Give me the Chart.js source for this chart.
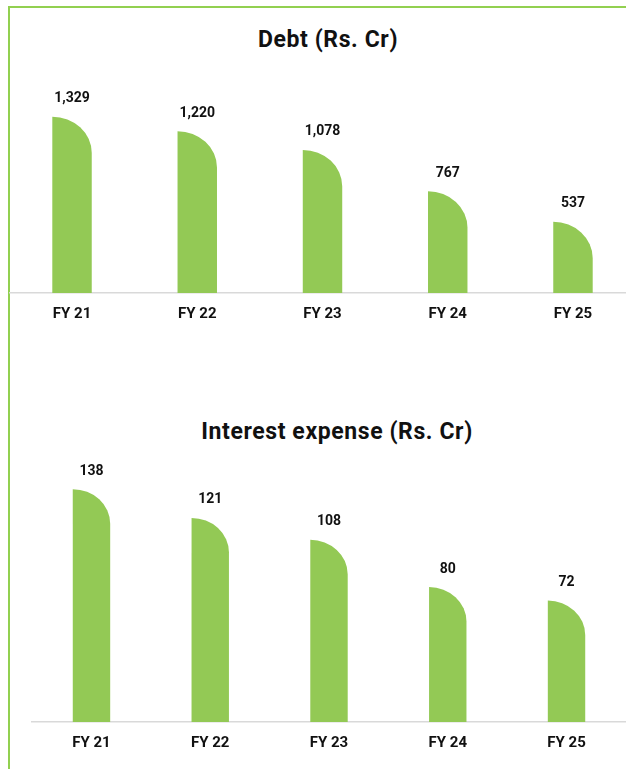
<!DOCTYPE html>
<html>
<head>
<meta charset="utf-8">
<script src="https://cdn.jsdelivr.net/npm/chart.js@4/dist/chart.umd.min.js"></script>
<style>
  html, body { margin: 0; padding: 0; background: #fff; width: 626px; height: 769px; overflow: hidden; }
  #frame { position: absolute; left: 8px; top: 6px; width: 700px; height: 800px;
           border-left: 2px solid #92d050; border-top: 2px solid #92d050; }
  .title { position: absolute; left: 0; text-align: center; font-family: Roboto, "Noto Sans", sans-serif;
           font-weight: 700; font-size: 23px; line-height: 26px; letter-spacing: 0.6px; color: #111; white-space: nowrap; }
  canvas { position: absolute; left: 0; }
</style>
</head>
<body>
<div id="frame"></div>
<div class="title" id="t1" style="top:27px; width:656px;">Debt (Rs. Cr)</div>
<div class="title" id="t2" style="top:419px; width:674px;">Interest expense (Rs. Cr)</div>
<canvas id="c1" width="640" height="279" style="top:54px;"></canvas>
<canvas id="c2" width="640" height="333" style="top:429px;"></canvas>
<script>
const categories = ['FY 21', 'FY 22', 'FY 23', 'FY 24', 'FY 25'];
const debtValues = [1329, 1220, 1078, 767, 537];
const interestValues = [138, 121, 108, 80, 72];

const BAR_COLOR = '#93c955';
const TEXT_COLOR = '#111111';

// Draw each bar as a column whose top-right corner is a quarter ellipse (shape from the reference)
const roundTopRightBars = {
  id: 'roundTopRightBars',
  beforeDatasetDraw(chart, args) {
    const ctx = chart.ctx;
    const meta = args.meta;
    ctx.save();
    meta.data.forEach(el => {
      const w = el.width;
      const left = el.x - w / 2;
      const right = el.x + w / 2;
      const top = el.y;
      const base = el.base;
      const h = base - top;
      const rx = Math.min(w, h);
      const ry = Math.min(w * 0.92, h);
      ctx.beginPath();
      ctx.moveTo(left, base);
      ctx.lineTo(left, top);
      ctx.ellipse(right - rx, top + ry, rx, ry, 0, -Math.PI / 2, 0);
      ctx.lineTo(right, base);
      ctx.closePath();
      ctx.fillStyle = el.options.backgroundColor;
      ctx.fill();
    });
    ctx.restore();
    return false;
  }
};

const valueLabels = {
  id: 'valueLabels',
  afterDatasetsDraw(chart) {
    const ctx = chart.ctx;
    ctx.save();
    ctx.font = '700 14px Roboto, "Noto Sans", sans-serif';
    ctx.fillStyle = TEXT_COLOR;
    ctx.textAlign = 'center';
    ctx.textBaseline = 'middle';
    chart.data.datasets.forEach((ds, i) => {
      chart.getDatasetMeta(i).data.forEach((el, j) => {
        ctx.fillText(ds.data[j].toLocaleString('en-US'), el.x, el.y - 18);
      });
    });
    ctx.restore();
  }
};

function makeChart(id, values, yMax, padLeft, padRight) {
  return new Chart(document.getElementById(id), {
    type: 'bar',
    data: {
      labels: categories,
      datasets: [{ data: values, backgroundColor: BAR_COLOR, borderWidth: 0,
                   categoryPercentage: 1, barPercentage: 0.315 }]
    },
    options: {
      responsive: false,
      animation: false,
      devicePixelRatio: 1,
      layout: { padding: { top: 40, left: padLeft, right: padRight, bottom: 0 } },
      plugins: { legend: { display: false }, tooltip: { enabled: false }, title: { display: false } },
      scales: {
        x: {
          offset: true,
          grid: { display: false, drawTicks: false },
          border: { display: true, color: '#d9d9d9', width: 1.5 },
          ticks: { color: TEXT_COLOR, padding: 12, font: { family: 'Roboto, "Noto Sans", sans-serif', size: 15, weight: '700' } },
          afterFit(scale) { scale.height = 40; }
        },
        y: { display: false, min: 0, max: yMax }
      }
    },
    plugins: [roundTopRightBars, valueLabels]
  });
}

makeChart('c1', debtValues, 1500, 9.4, 4.4);
makeChart('c2', interestValues, 150, 32.1, 14.1);
</script>
</body>
</html>
